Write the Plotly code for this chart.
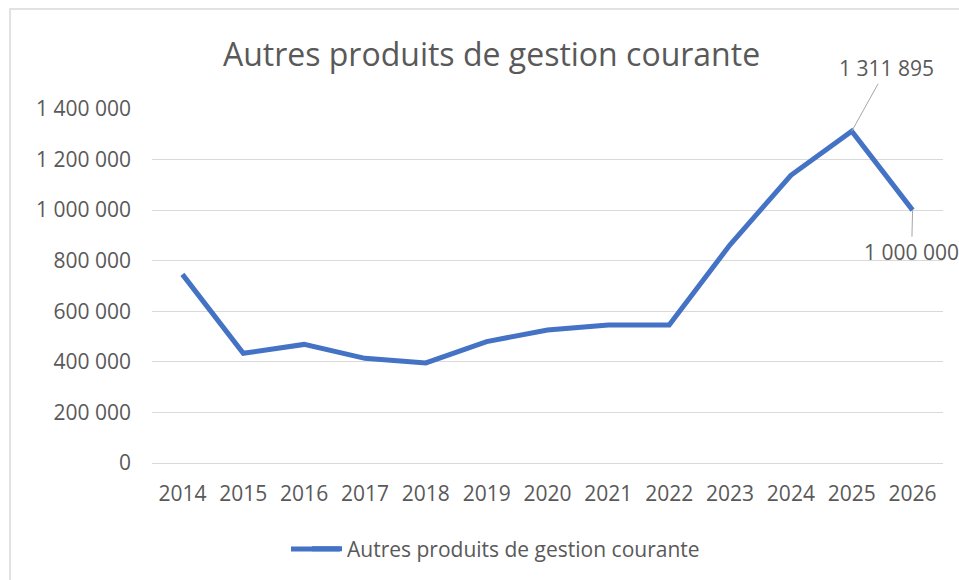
import plotly.graph_objects as go

years = ["2014", "2015", "2016", "2017", "2018", "2019", "2020",
         "2021", "2022", "2023", "2024", "2025", "2026"]
values = [746000, 434000, 469000, 414000, 396000, 480000, 526000,
          546000, 546000, 863000, 1138000, 1311895, 1000000]
series_name = "Autres produits de gestion courante"
y_ticks = [0, 200000, 400000, 600000, 800000, 1000000, 1200000, 1400000]
labelled_years = ["2025", "2026"]

W, H = 959, 580
L, R, T, B = 152, 16, 109, 117
GRAY_TXT = "#595959"
GRID = "#D9D9D9"
BLUE = "#4472C4"
FONT = "Open Sans"

fig = go.Figure()
fig.add_trace(go.Scatter(
    x=years, y=values, mode="lines", name=series_name,
    line=dict(color=BLUE, width=5),
))

def lbl(v):
    return f"{v:,}".replace(",", " ")

offsets = {"2025": (35, -63), "2026": (-1, 42)}
for yr in labelled_years:
    i = years.index(yr)
    ax, ay = offsets[yr]
    fig.add_annotation(x=i, y=values[i], text=lbl(values[i]),
                       showarrow=True, arrowhead=0, arrowwidth=1, arrowcolor="#A6A6A6",
                       ax=ax, ay=ay, font=dict(size=21, color=GRAY_TXT, family=FONT))

plot_h = H - T - B
plot_w = W - L - R
plot_bottom = H - B
# chart border
fig.add_shape(type="rect", xref="paper", yref="paper",
              x0=(10 - L) / plot_w, x1=(1000 - L) / plot_w,
              y0=-(620 - plot_bottom) / plot_h, y1=1 + (T - 9) / plot_h,
              line=dict(color=GRID, width=1.5), layer="below")
# lengthen the legend sample line (Excel-style longer key)
ly = (plot_bottom - 549) / plot_h
fig.add_shape(type="line", xref="paper", yref="paper",
              x0=(291 - L) / plot_w, x1=(340 - L) / plot_w,
              y0=ly, y1=ly, line=dict(color=BLUE, width=5))

fig.update_layout(
    width=W, height=H,
    margin=dict(l=L, r=R, t=T, b=B),
    paper_bgcolor="white", plot_bgcolor="white",
    font=dict(family=FONT, color=GRAY_TXT),
    title=dict(text=series_name, x=491.5 / W, xref="container", xanchor="center",
               y=1 - 55 / H, yref="container", yanchor="middle",
               font=dict(size=32, color=GRAY_TXT, family=FONT)),
    showlegend=True,
    legend=dict(orientation="h", xref="container", yref="container",
                x=307 / W, xanchor="left", y=1 - 549 / H, yanchor="middle",
                bgcolor="rgba(0,0,0,0)",
                font=dict(size=21, color=GRAY_TXT, family=FONT)),
    xaxis=dict(type="category", range=[-0.5, 12.5], showgrid=False, showline=False,
               zeroline=False, ticks="", ticklabelstandoff=16,
               tickfont=dict(size=21, color=GRAY_TXT, family=FONT)),
    yaxis=dict(range=[0, 1400000], tickvals=y_ticks,
               ticktext=[lbl(v) for v in y_ticks],
               showgrid=True, gridcolor=GRID, gridwidth=1.3,
               zeroline=True, zerolinecolor=GRID, zerolinewidth=1.3,
               showline=False, ticks="", ticklabelstandoff=20,
               tickfont=dict(size=21, color=GRAY_TXT, family=FONT)),
)

fig.write_html("out.html",
               config={"displayModeBar": False},
               post_script="document.body.style.margin='0';"
                           "document.body.style.overflow='hidden';")
